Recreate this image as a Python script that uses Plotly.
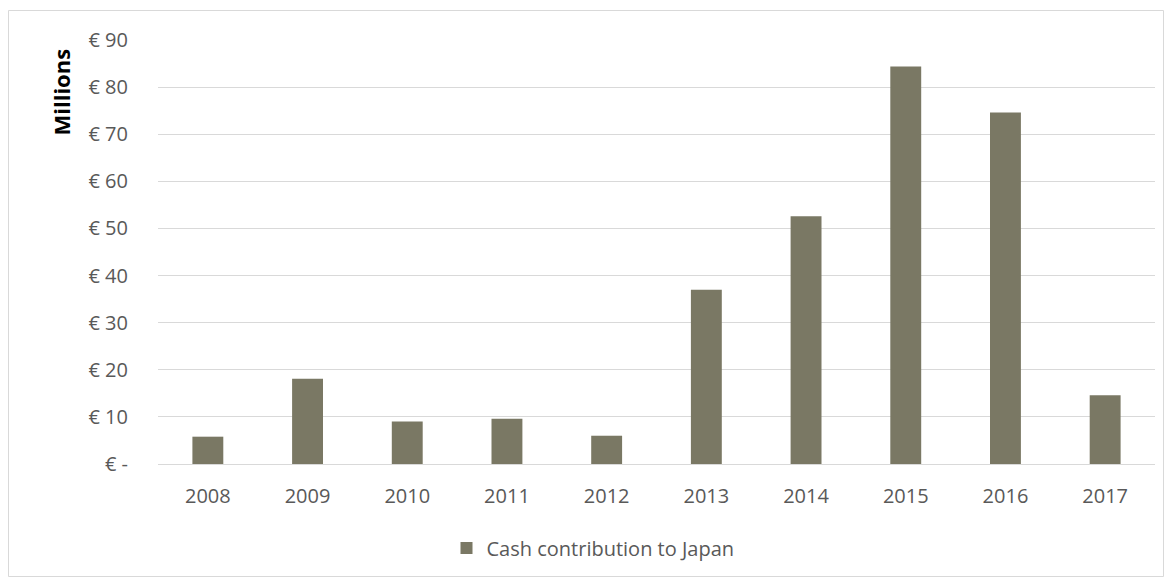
import plotly.graph_objects as go

# Annual cash contribution to Japan, in millions of euro
years = ["2008", "2009", "2010", "2011", "2012", "2013", "2014", "2015", "2016", "2017"]
contribution = [5.8, 18.1, 9.0, 9.6, 6.0, 37.0, 52.6, 84.4, 74.6, 14.6]

tick_values = [0, 10, 20, 30, 40, 50, 60, 70, 80, 90]
tick_labels = ["€ -", "€ 10", "€ 20", "€ 30", "€ 40", "€ 50", "€ 60", "€ 70", "€ 80", "€ 90"]

W, H = 1172, 580
L, R, T, B = 158, 17, 40, 116
pw, ph = W - L - R, H - T - B

def px_x(x):
    return (x - L) / pw

def px_y(y):
    return (H - B - y) / ph

fig = go.Figure()
fig.add_trace(go.Bar(
    x=years,
    y=contribution,
    name="Cash contribution to Japan",
    marker=dict(color="#7A7864", line=dict(width=0)),
))

font_family = "Open Sans, Liberation Sans, sans-serif"
label_size = 20

fig.update_layout(
    width=W,
    height=H,
    margin=dict(l=L, r=R, t=T, b=B),
    paper_bgcolor="white",
    plot_bgcolor="white",
    bargap=0.69,
    font=dict(family=font_family, size=label_size, color="#595959"),
    showlegend=True,
    legend=dict(
        orientation="h",
        x=px_x(593),
        xanchor="center",
        y=px_y(548),
        yanchor="middle",
        font=dict(size=label_size, color="#595959"),
        itemsizing="constant",
    ),
    xaxis=dict(
        showgrid=False,
        showline=False,
        ticks="",
        tickfont=dict(size=label_size, color="#595959"),
        ticklabelstandoff=18,
    ),
    yaxis=dict(
        range=[0, 90],
        tickvals=tick_values,
        ticktext=tick_labels,
        showgrid=True,
        gridcolor="#D9D9D9",
        gridwidth=1,
        zeroline=True,
        zerolinecolor="#D9D9D9",
        zerolinewidth=1,
        showline=False,
        ticks="",
        tickfont=dict(size=label_size, color="#595959"),
        ticklabelstandoff=29,
    ),
    annotations=[
        dict(
            text="<b>Millions</b>",
            xref="paper", yref="paper",
            x=px_x(60), y=px_y(92.5),
            xanchor="center", yanchor="middle",
            textangle=-90,
            showarrow=False,
            font=dict(family=font_family, size=22, color="#000000"),
        )
    ],
    shapes=[
        dict(
            type="rect",
            xref="paper", yref="paper",
            x0=px_x(8.5), x1=px_x(1163.5),
            y0=px_y(576.5), y1=px_y(10.5),
            line=dict(color="#D9D9D9", width=1),
            fillcolor="rgba(0,0,0,0)",
            layer="below",
        )
    ],
)

fig.write_html("out.html")
